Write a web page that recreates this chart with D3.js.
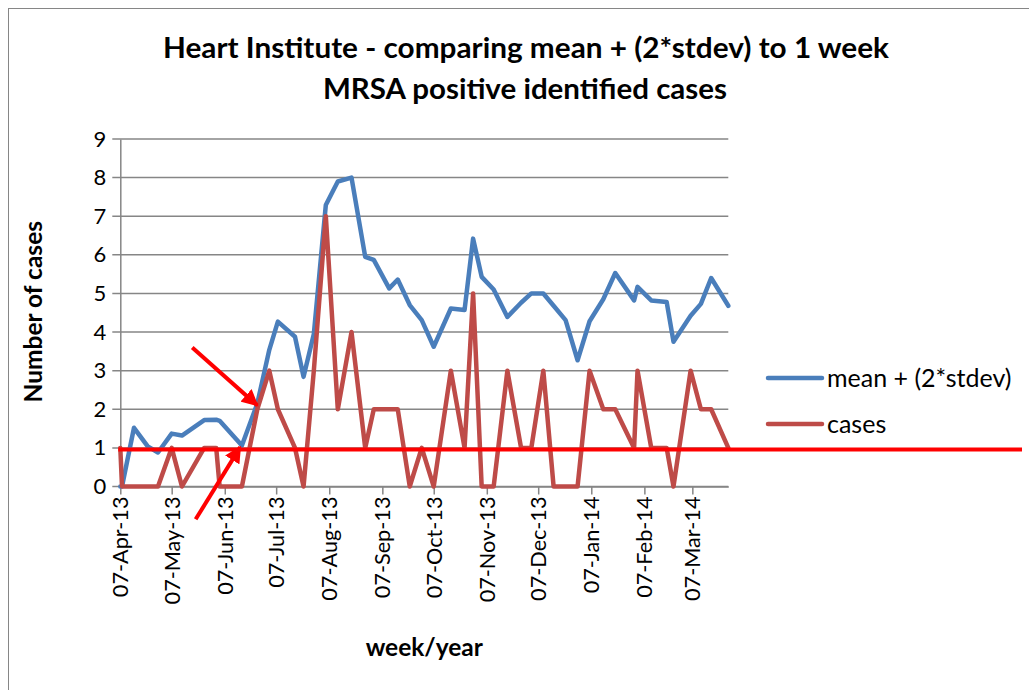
<!DOCTYPE html>
<html>
<head>
<meta charset="utf-8">
<script src="https://cdn.jsdelivr.net/npm/d3@7"></script>
<style>
  body { margin: 0; background: #fff; }
  text { font-family: Lato, "Open Sans", sans-serif; fill: #000; }
</style>
</head>
<body>
<div id="chart"></div>
<script>
// week dates
var weekDates = ["2013-04-07","2013-04-08","2013-04-15","2013-04-23","2013-04-29","2013-05-07","2013-05-13",
  "2013-05-26","2013-06-02","2013-06-04","2013-06-17","2013-06-26","2013-07-03","2013-07-08","2013-07-18",
  "2013-07-23","2013-07-29","2013-08-05","2013-08-12","2013-08-20","2013-08-28","2013-09-02","2013-09-11",
  "2013-09-16","2013-09-23","2013-09-30","2013-10-07","2013-10-17","2013-10-25","2013-10-30","2013-11-04",
  "2013-11-11","2013-11-19","2013-11-27","2013-12-03","2013-12-10","2013-12-16","2013-12-23","2013-12-30",
  "2014-01-06","2014-01-14","2014-01-21","2014-02-01","2014-02-03","2014-02-11","2014-02-20","2014-02-24",
  "2014-03-06","2014-03-12","2014-03-18","2014-03-28"];

var meanPlus2sd = [0, 0, 1.52, 1.04, 0.88, 1.37, 1.32, 1.72, 1.73, 1.70, 1.06, 2.15, 3.54, 4.27, 3.88,
  2.84, 3.95, 7.29, 7.9, 8.0, 5.95, 5.87, 5.13, 5.36, 4.7, 4.31, 3.62, 4.61, 4.57, 6.42, 5.43,
  5.1, 4.39, 4.76, 5.0, 5.0, 4.68, 4.31, 3.27, 4.28, 4.85, 5.53, 4.82, 5.17, 4.82, 4.78, 3.75,
  4.42, 4.73, 5.4, 4.68];

var cases = [1, 0, 0, 0, 0, 1, 0, 1, 1, 0, 0, 2, 3, 2, 1,
  0, 3, 7, 2, 4, 1, 2, 2, 2, 0, 1, 0, 3, 1, 5, 0,
  0, 3, 1, 1, 3, 0, 0, 0, 3, 2, 2, 1, 3, 1, 1, 0,
  3, 2, 2, 1];

var tickDates = ["2013-04-07","2013-05-07","2013-06-07","2013-07-07","2013-08-07","2013-09-07",
  "2013-10-07","2013-11-07","2013-12-07","2014-01-07","2014-02-07","2014-03-07"];
var yTicks = [0, 1, 2, 3, 4, 5, 6, 7, 8, 9];

var seriesNames = ["mean + (2*stdev)", "cases"];
var seriesColors = ["#4A7EBB", "#BE4B48"];

// hand drawn annotations on the sheet
var thresholdValue = 0.96;
var arrows = [
  { from: ["2013-05-19", 3.6], to: ["2013-06-26", 2.1] },
  { from: ["2013-05-21", -0.85], to: ["2013-06-16", 1.02] }
];

var svgWidth = 1029;
var svgHeight = 690;
var margin = { top: 139, left: 120.3, right: 300.7, bottom: 203.5 };
var width = svgWidth - margin.left - margin.right;
var height = svgHeight - margin.top - margin.bottom;

var parse = d3.timeParse("%Y-%m-%d");

var svg = d3.select("#chart")
  .append("svg")
  .attr("width", svgWidth)
  .attr("height", svgHeight);

svg.append("rect")
  .attr("x", 8.5).attr("y", 8.5)
  .attr("width", 1040).attr("height", 700)
  .attr("fill", "#fff")
  .attr("stroke", "#868686")
  .attr("stroke-width", 1);

var chartGroup = svg.append("g")
  .attr("transform", `translate(${margin.left}, ${margin.top})`);

var xScale = d3.scaleTime()
  .domain([parse(weekDates[0]), parse(weekDates[weekDates.length - 1])])
  .range([0, width]);
var yScale = d3.scaleLinear()
  .domain([0, 9])
  .range([height, 0]);

// gridlines
chartGroup.selectAll(".grid")
  .data(yTicks)
  .enter()
  .append("line")
  .attr("x1", -8)
  .attr("x2", width)
  .attr("y1", d => yScale(d))
  .attr("y2", d => yScale(d))
  .attr("stroke", "#868686")
  .attr("stroke-width", 1.5);

// y axis
var leftAxis = d3.axisLeft(yScale).tickValues(yTicks).tickSize(0).tickPadding(14);
var yAxisG = chartGroup.append("g").call(leftAxis);
yAxisG.select(".domain").attr("stroke", "#868686").attr("stroke-width", 1.5);
yAxisG.selectAll("text").style("font-size", "22px").attr("font-family", "Lato, sans-serif");

// x axis
var bottomAxis = d3.axisBottom(xScale)
  .tickValues(tickDates.map(parse))
  .tickFormat(d3.timeFormat("%d-%b-%y"))
  .tickSizeInner(8)
  .tickSizeOuter(0)
  .tickPadding(10);
var xAxisG = chartGroup.append("g")
  .attr("transform", `translate(0, ${height})`)
  .call(bottomAxis);
xAxisG.select(".domain").attr("stroke", "#868686").attr("stroke-width", 1.5);
xAxisG.selectAll(".tick line").attr("stroke", "#868686").attr("stroke-width", 1.5);
xAxisG.selectAll("text")
  .style("font-size", "21.7px")
  .attr("font-family", "Lato, sans-serif")
  .attr("transform", "rotate(-90)")
  .attr("text-anchor", "end")
  .attr("x", -10)
  .attr("y", 0)
  .attr("dy", "0.35em");

// series
var rows = weekDates.map((d, i) => ({ date: parse(d), mean: meanPlus2sd[i], cases: cases[i] }));
var seriesKeys = ["mean", "cases"];
seriesKeys.forEach(function(key, i) {
  var line = d3.line()
    .x(d => xScale(d.date))
    .y(d => yScale(d[key]));
  chartGroup.append("path")
    .datum(rows)
    .attr("d", line)
    .attr("fill", "none")
    .attr("stroke", seriesColors[i])
    .attr("stroke-width", 4.5)
    .attr("stroke-linejoin", "round")
    .attr("stroke-linecap", "round");
});

// threshold line drawn over the chart
svg.append("line")
  .attr("x1", margin.left - 2)
  .attr("x2", 1022)
  .attr("y1", margin.top + yScale(thresholdValue))
  .attr("y2", margin.top + yScale(thresholdValue))
  .attr("stroke", "#FF0000")
  .attr("stroke-width", 4);

// arrows
svg.append("defs").append("marker")
  .attr("id", "head")
  .attr("viewBox", "0 0 10 10")
  .attr("refX", 9).attr("refY", 5)
  .attr("markerWidth", 4.2).attr("markerHeight", 4.2)
  .attr("orient", "auto")
  .append("path")
  .attr("d", "M0,0 L10,5 L0,10 Z")
  .attr("fill", "#FF0000");

chartGroup.selectAll(".arrow")
  .data(arrows)
  .enter()
  .append("line")
  .attr("x1", d => xScale(parse(d.from[0])))
  .attr("y1", d => yScale(d.from[1]))
  .attr("x2", d => xScale(parse(d.to[0])))
  .attr("y2", d => yScale(d.to[1]))
  .attr("stroke", "#FF0000")
  .attr("stroke-width", 4)
  .attr("marker-end", "url(#head)");

// titles
svg.append("text")
  .attr("x", 526).attr("y", 58)
  .attr("text-anchor", "middle")
  .attr("textLength", 726).attr("lengthAdjust", "spacingAndGlyphs")
  .style("font-size", "28px").style("font-weight", "bold")
  .text("Heart Institute - comparing mean + (2*stdev) to 1 week");
svg.append("text")
  .attr("x", 525).attr("y", 99)
  .attr("text-anchor", "middle")
  .attr("textLength", 404).attr("lengthAdjust", "spacingAndGlyphs")
  .style("font-size", "28px").style("font-weight", "bold")
  .text("MRSA positive identified cases");

chartGroup.append("text")
  .attr("transform", "rotate(-90)")
  .attr("x", -(height / 2) + 1)
  .attr("y", 33 - margin.left)
  .attr("dy", "0.35em")
  .attr("text-anchor", "middle")
  .style("font-size", "24.5px").style("font-weight", "bold")
  .text("Number of cases");

chartGroup.append("text")
  .attr("x", width / 2)
  .attr("y", 656 - margin.top)
  .attr("text-anchor", "middle")
  .style("font-size", "24.5px").style("font-weight", "bold")
  .text("week/year");

// legend
var legend = svg.append("g").attr("transform", "translate(768, 378)");
seriesNames.forEach(function(name, i) {
  var g = legend.append("g").attr("transform", `translate(0, ${i * 46})`);
  g.append("line")
    .attr("x1", 0).attr("x2", 54)
    .attr("stroke", seriesColors[i])
    .attr("stroke-width", 4.5)
    .attr("stroke-linecap", "round");
  g.append("text")
    .attr("x", 59)
    .attr("dy", "0.35em")
    .style("font-size", "25px")
    .text(name);
});
</script>
</body>
</html>
